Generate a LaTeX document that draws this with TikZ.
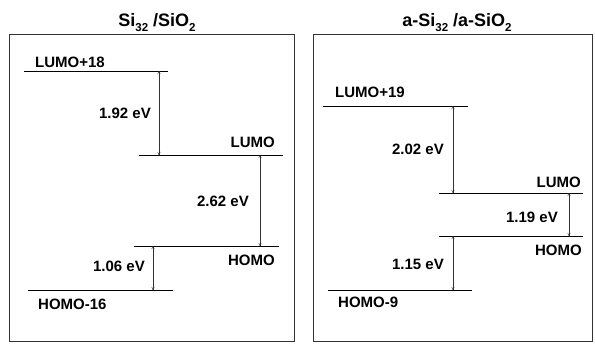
\documentclass[tikz,border=0pt]{standalone}
\usepackage{fontspec}
\setmainfont{Liberation Sans}
\usetikzlibrary{arrows.meta, positioning}
\newcommand{\lowidx}[1]{\raisebox{-0.3em}{\fontsize{11.5}{12}\selectfont #1}}
\tikzset{
  panel/.style={draw=black!80, line width=0.9pt},
  lvl/.style={draw=black, line width=1pt},
  gap/.style={{To[length=3.2pt,width=3pt]}-{To[length=3.2pt,width=3pt]},
              draw=black!80, line width=0.5pt},
  lbl/.style={font=\bfseries\fontsize{15}{17}\selectfont, inner sep=0pt},
  ttl/.style={font=\bfseries\fontsize{18}{21}\selectfont, inner sep=0pt, anchor=base},
}

\begin{document}
\begin{tikzpicture}[x=1pt, y=-1pt]
\useasboundingbox (0,0) rectangle (595,348);

% titles and frames
\node[ttl] (ttlA) at (157,26) {Si\lowidx{32} /SiO\lowidx{2}};
\node[ttl] (ttlB) at (457,26) {a-Si\lowidx{32} /a-SiO\lowidx{2}};
\draw[panel] (9,34) rectangle (294,341);
\draw[panel] (313,34) rectangle (592,341);

% crystalline: levels
\coordinate (lpA) at (24,71);   \draw[lvl] (lpA) -- ++(144,0);
\coordinate (luA) at (139,155); \draw[lvl] (luA) -- ++(144,0);
\coordinate (hoA) at (134,246); \draw[lvl] (hoA) -- ++(145,0);
\coordinate (hmA) at (28,290);  \draw[lvl] (hmA) -- ++(145,0);

% amorphous: levels
\coordinate (lpB) at (323,106); \draw[lvl] (lpB) -- ++(145,0);
\coordinate (luB) at (439,193); \draw[lvl] (luB) -- ++(144,0);
\coordinate (hoB) at (439,236); \draw[lvl] (hoB) -- ++(144,0);
\coordinate (hmB) at (328,290); \draw[lvl] (hmB) -- ++(144,0);

% gaps
\coordinate (gA1) at (159,0); \coordinate (gA2) at (260,0); \coordinate (gA3) at (153,0);
\coordinate (gB1) at (453,0); \coordinate (gB2) at (569,0);
\draw[gap] (gA1 |- lpA) -- (gA1 |- luA);
\draw[gap] (gA2 |- luA) -- (gA2 |- hoA);
\draw[gap] (gA3 |- hoA) -- (gA3 |- hmA);
\draw[gap] (gB1 |- lpB) -- (gB1 |- luB);
\draw[gap] (gB2 |- luB) -- (gB2 |- hoB);
\draw[gap] (gB1 |- hoB) -- (gB1 |- hmB);

% labels, crystalline
\node[lbl, anchor=west] (nlpA) at (35,62)   {LUMO+18};
\node[lbl, anchor=east] (nluA) at (275,142) {LUMO};
\node[lbl, anchor=east] (nhoA) at (275,260) {HOMO};
\node[lbl, anchor=west] (nhmA) at (38,304)  {HOMO-16};
\node[lbl, anchor=east] (eA1) at (151,113) {1.92 eV};
\node[lbl, anchor=east] (eA2) at (249,201) {2.62 eV};
\node[lbl, anchor=east] (eA3) at (145,266) {1.06 eV};

% labels, amorphous
\node[lbl, anchor=west] (nlpB) at (335,92)  {LUMO+19};
\node[lbl, anchor=east] (nluB) at (581,182) {LUMO};
\node[lbl, anchor=east] (nhoB) at (582,250) {HOMO};
\node[lbl, anchor=west] (nhmB) at (338,302) {HOMO-9};
\node[lbl, anchor=east] (eB1) at (444,149) {2.02 eV};
\node[lbl, anchor=east] (eB2) at (558,217) {1.19 eV};
\node[lbl, anchor=east] (eB3) at (444,264) {1.15 eV};
\end{tikzpicture}
\end{document}
